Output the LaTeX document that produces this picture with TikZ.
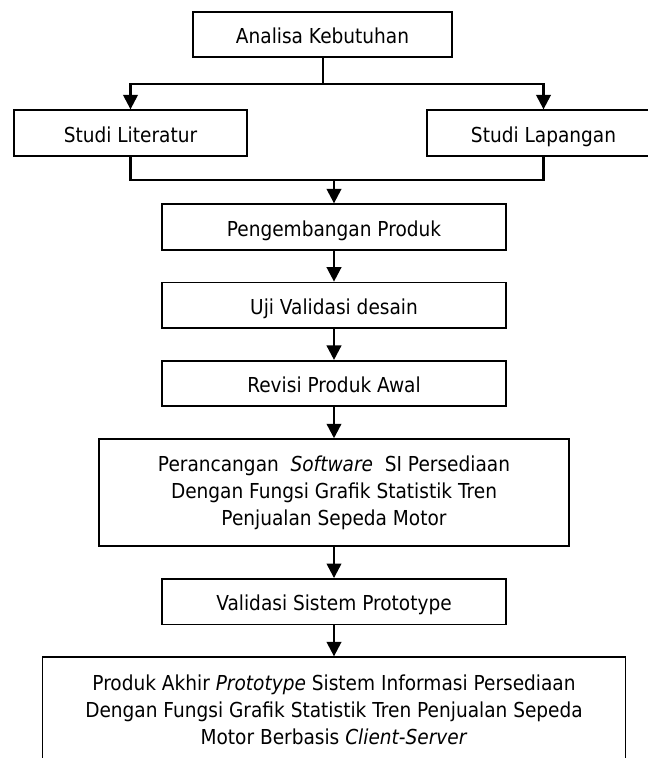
\documentclass[tikz,border=0pt]{standalone}
\usepackage{fontspec}
\setmainfont{DejaVu Sans}[FakeStretch=0.9]
\usetikzlibrary{arrows.meta, positioning}

\begin{document}
\begin{tikzpicture} [x=1pt, y=1pt,
            node distance = 31pt,
            box/.style = {draw, line width=1.8pt, align=center, inner sep=0pt,
                font=\fontsize{20.6}{27}\selectfont},
            oneline/.style = {box, text height=18pt, text depth=0pt,
                minimum height=45.5pt},
            flow/.style = {line width=2.4pt, -{Triangle[width=14.5pt, length=14.5pt]}}]

        \useasboundingbox (0,0) rectangle (648,-758);
        \clip (0,0) rectangle (648,-758);

        % Analisa Kebutuhan
        \node (analisa) [oneline, minimum width=259pt] at (322.5,-34.5) {Analisa Kebutuhan};

        % Studi Literatur / Studi Lapangan
        \node (literatur) [oneline, minimum width=233pt] at (130.5,-133) {Studi Literatur};
        \node (lapangan) [oneline, minimum width=233pt] at (543.5,-133) {Studi Lapangan};

        % Main column
        \node (pengembangan) [oneline, minimum width=344pt] at (334,-227) {Pengembangan Produk};

        \node (uji) [oneline, minimum width=344pt,
            below = of pengembangan] {Uji Validasi desain};

        \node (revisi) [oneline, minimum width=344pt,
            below = of uji] {Revisi Produk Awal};

        \node (perancangan) [box, minimum width=470pt, minimum height=107pt,
            below = of revisi] {Perancangan\ \ \textit{Software}\ \ SI Persediaan\\
            Dengan Fungsi Grafik Statistik Tren\\Penjualan Sepeda Motor};

        \node (validasi) [oneline, minimum width=344pt,
            below = of perancangan] {Validasi Sistem Prototype};

        \node (produk) [box, minimum width=583pt, inner ysep=17.3pt, text depth=100pt,
            below = of validasi] {Produk Akhir \textit{Prototype} Sistem Informasi Persediaan\\
            Dengan Fungsi Grafik Statistik Tren Penjualan Sepeda\\
            Motor Berbasis \textit{Client-Server}};

        % Fork and join points
        \coordinate (fork) at (323,-84);
        \coordinate (join) at (334,-180);

        % Arrows
        \draw [line width=2.4pt] (analisa.south -| fork) -- (fork);
        \draw [flow] (fork) -| (literatur.north);
        \draw [flow] (fork) -| (lapangan.north);

        \draw [line width=2.4pt] (literatur.south) |- (join);
        \draw [line width=2.4pt] (lapangan.south) |- (join);

        \path [flow]
            (join) edge (pengembangan)
            (pengembangan) edge (uji)
            (uji) edge (revisi)
            (revisi) edge (perancangan)
            (perancangan) edge (validasi)
            (validasi) edge (produk.north)
            ;
\end{tikzpicture}
\end{document}
